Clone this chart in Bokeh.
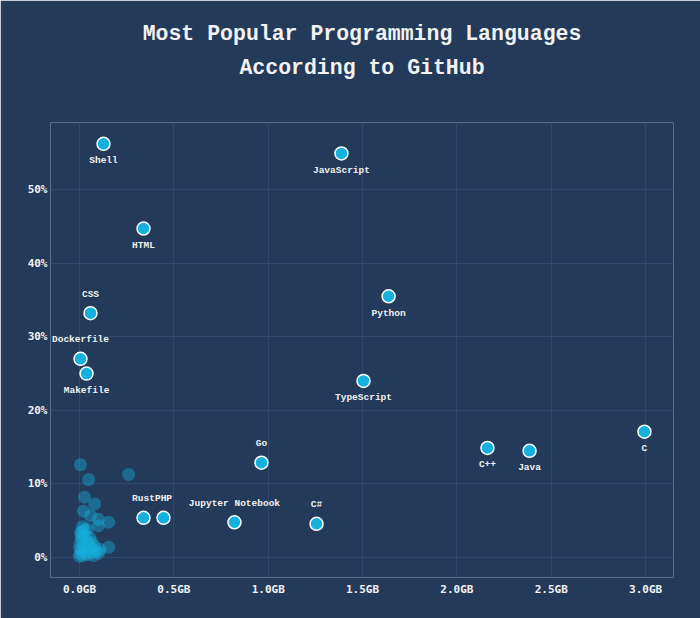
from bokeh.plotting import figure
from bokeh.models import Range1d, ColumnDataSource, FixedTicker, CustomJSTickFormatter, Title
from bokeh.core.properties import value
from bokeh.embed import file_html
from bokeh.resources import INLINE

# Labelled languages: repo size (GB) and share (%)
languages = ["Shell", "JavaScript", "HTML", "CSS", "Python", "Dockerfile", "Makefile",
             "TypeScript", "Go", "C++", "Java", "C", "Rust", "PHP", "Jupyter Notebook", "C#"]
size_gb = [0.127, 1.388, 0.339, 0.058, 1.638, 0.005, 0.037,
           1.505, 0.964, 2.162, 2.385, 2.994, 0.339, 0.445, 0.821, 1.256]
share_pct = [56.2, 54.9, 44.7, 33.2, 35.5, 27.0, 25.0,
             24.0, 12.9, 14.9, 14.5, 17.1, 5.4, 5.4, 4.8, 4.6]
labels_above = ["CSS", "Dockerfile", "Go", "Rust", "PHP", "Jupyter Notebook", "C#"]

# Unlabelled languages (faded cluster)
other_gb = [0.005, 0.048, 0.26, 0.026, 0.08, 0.021, 0.058, 0.10, 0.154, 0.10, 0.016, 0.042,
            0.005, 0.154, 0.0, 0.005, 0.01, 0.02, 0.003, 0.015, 0.03, 0.04, 0.05, 0.06,
            0.07, 0.08, 0.09, 0.10, 0.02, 0.035, 0.045, 0.012, 0.025, 0.055, 0.065, 0.0,
            0.008, 0.11, 0.075]
other_pct = [12.6, 10.6, 11.3, 8.2, 7.3, 6.3, 5.7, 5.2, 4.8, 4.3, 4.2, 3.9,
             3.4, 1.4, 0.2, 0.5, 1.0, 1.5, 2.0, 2.5, 3.0, 2.2, 1.8, 1.2,
             0.8, 1.5, 0.9, 0.6, 0.3, 0.7, 0.4, 3.5, 3.8, 2.7, 2.1, 1.3,
             2.8, 1.1, 0.3]

x_ticks = [0.0, 0.5, 1.0, 1.5, 2.0, 2.5, 3.0]
y_ticks = [0, 10, 20, 30, 40, 50]

BG = "#243a5a"
GRID = "#2f4a6e"
DOT = "#15b1de"
TXT = "#f2f2f2"

p = figure(width=700, height=618, output_backend="svg", toolbar_location=None,
           x_range=Range1d(-0.154, 3.148), y_range=Range1d(-2.7, 59.1),
           min_border_left=50, min_border_right=27, min_border_top=122, min_border_bottom=41)
p.background_fill_color = BG
p.border_fill_color = BG
p.outline_line_color = None
p.outline_line_alpha = 0
p.outline_line_width = 0

title_font = "Liberation Mono"
# p.title sits farthest from the plot; added titles stack outward from the plot in order
p.title.text = "Most Popular Programming Languages"
p.title.align = "center"
p.title.text_font = title_font
p.title.text_font_size = "21.5px"
p.title.text_font_style = "bold"
p.title.text_color = TXT
p.title.standoff = 0


def spacer(px):
    return Title(text="\u00a0", text_font_size="%.1fpx" % px, standoff=0, text_color=BG)


p.add_layout(spacer(37), "above")
p.add_layout(Title(text="According to GitHub", align="center",
                   text_font=title_font, text_font_size="21.5px", text_font_style="bold",
                   text_color=TXT, standoff=0), "above")
p.add_layout(spacer(5.8), "above")

for ax in (p.xaxis, p.yaxis):
    ax.axis_line_color = None
    ax.major_tick_line_color = None
    ax.minor_tick_line_color = None
    ax.major_tick_out = 0
    ax.major_tick_in = 0
    ax.minor_tick_out = 0
    ax.minor_tick_in = 0
    ax.major_label_text_color = TXT
    ax.major_label_text_font = "DejaVu Sans Mono"
    ax.major_label_text_font_style = "bold"
    ax.major_label_text_font_size = "11px"
p.xaxis.ticker = FixedTicker(ticks=x_ticks)
p.yaxis.ticker = FixedTicker(ticks=y_ticks)
p.xaxis.formatter = CustomJSTickFormatter(code="return tick.toFixed(1) + 'GB';")
p.yaxis.formatter = CustomJSTickFormatter(code="return tick.toFixed(0) + '%';")
p.xaxis.major_label_standoff = 5
p.yaxis.major_label_standoff = 3

p.grid.grid_line_color = GRID
p.grid.grid_line_width = 1

p.scatter(other_gb, other_pct, size=13, fill_color=DOT, fill_alpha=0.42, line_color=None)

src = ColumnDataSource(dict(
    x=size_gb, y=share_pct, name=languages,
    dy=[-19 if n in labels_above else 17 for n in languages]))
p.scatter("x", "y", source=src, size=13, fill_color=DOT, line_color="white", line_width=1.5)
p.text("x", "y", text="name", source=src, y_offset="dy", text_align="center",
       text_baseline="middle", text_color=TXT, text_font=value("Liberation Mono"),
       text_font_style="bold", text_font_size="9.5px")

html = file_html(p, INLINE)
html = html.replace("<body>", '<body style="background:%s;">' % BG, 1)
open("out.html", "w").write(html)
